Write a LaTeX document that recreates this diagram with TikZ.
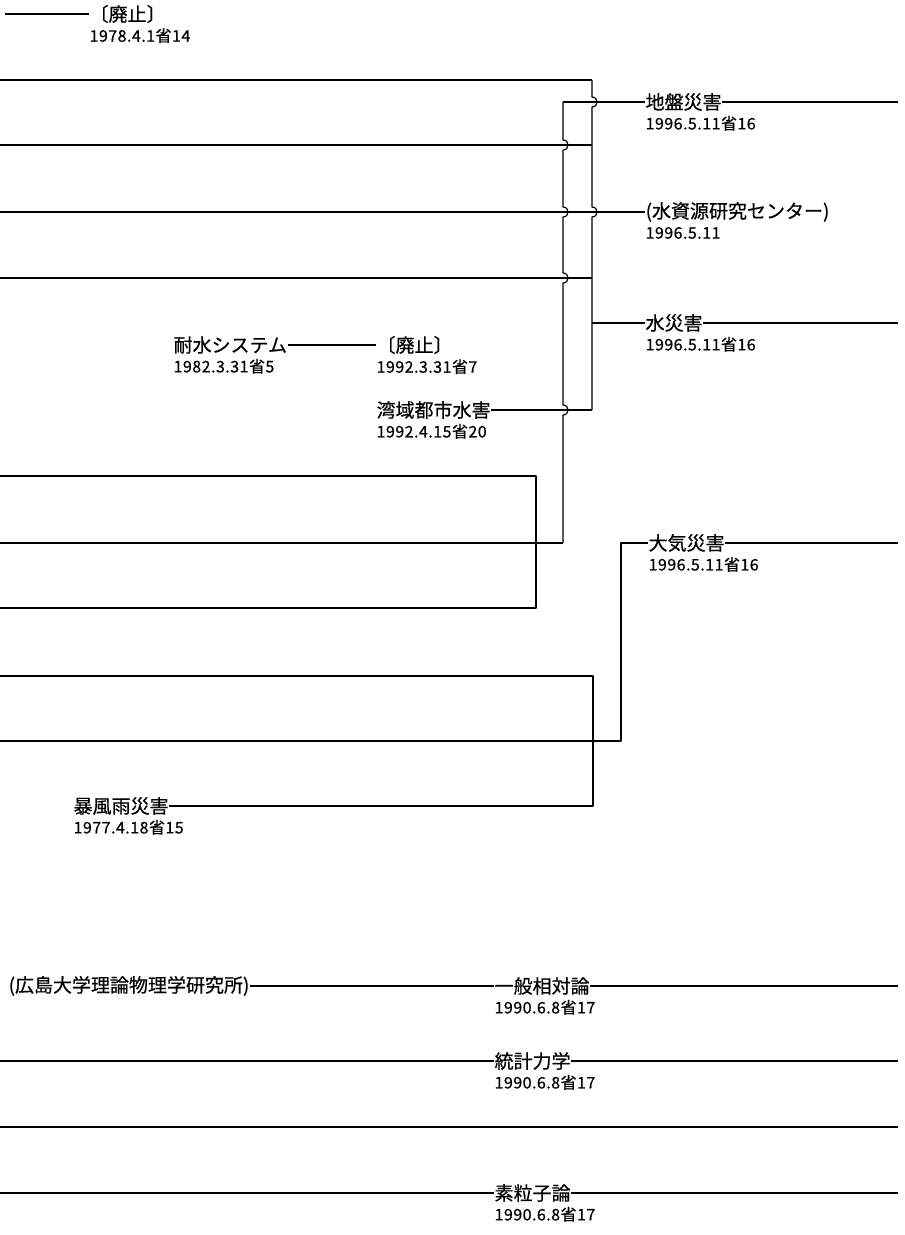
\documentclass[tikz,border=0pt]{standalone}
\usepackage{fontspec}
\setmainfont{Noto Sans CJK JP}[FakeBold=0.6]
\newfontfamily\datefont{Noto Sans CJK JP}[FakeBold=0.6, LetterSpace=3]
\usetikzlibrary{positioning}
\begin{document}
\begin{tikzpicture}[x=0.5pt, y=-0.5pt, line width=0.6pt, line join=round,
  unitlbl/.style={inner sep=0pt, anchor=west, font=\fontsize{9.5}{10}\selectfont},
  datelbl/.style={inner sep=0pt, font=\datefont\fontsize{8}{9}\selectfont}]
\useasboundingbox (0,0) rectangle (904,1235);

% abolished at top
\coordinate (topL) at (5,14);
\node[unitlbl] (haishiA) at (89,14) {〔廃止〕};
\node[datelbl, below=2pt of haishiA.south west, anchor=north west] {1978.4.1省14};
\draw (topL) -- (haishiA.west);

% labels of the first block
\node[unitlbl] (jiban) at (645,102) {地盤災害};
\node[datelbl, below=2pt of jiban.south west, anchor=north west] {1996.5.11省16};
\node[unitlbl] (shigen) at (645,212) {(水資源研究センター)};
\node[datelbl, below=2pt of shigen.south west, anchor=north west] {1996.5.11};
\node[unitlbl] (suisai) at (645,323) {水災害};
\node[datelbl, below=2pt of suisai.south west, anchor=north west] {1996.5.11省16};
\node[unitlbl] (taisui) at (173,345) {耐水システム};
\node[datelbl, below=2pt of taisui.south west, anchor=north west] {1982.3.31省5};
\node[unitlbl] (haishiB) at (376,345) {〔廃止〕};
\node[datelbl, below=2pt of haishiB.south west, anchor=north west] {1992.3.31省7};
\node[unitlbl] (wan) at (376,410) {湾域都市水害};
\node[datelbl, below=2pt of wan.south west, anchor=north west] {1992.4.15省20};
\node[unitlbl] (taiki) at (648,543) {大気災害};
\node[datelbl, below=2pt of taiki.south west, anchor=north west] {1996.5.11省16};
\node[unitlbl] (bofu) at (73,806) {暴風雨災害};
\node[datelbl, below=2pt of bofu.south west, anchor=north west] {1977.4.18省15};

% joints
\coordinate (rTop) at (592,80);
\coordinate (rBot) at (592,410);
\coordinate (lTop) at (563,102);
\coordinate (lBot) at (563,543);
\coordinate (rEndA) at (898,102);
\coordinate (rEndB) at (898,323);
\coordinate (rEndC) at (898,543);

% right trunk, hops over 102 and 212
\draw (rTop) -- (592,97) .. controls (598.7,97) and (598.7,107) .. (592,107)
  -- (592,207) .. controls (598.7,207) and (598.7,217) .. (592,217) -- (rBot);
% left trunk, hops over 145, 212, 278, 410
\draw (lTop) -- (563,140) .. controls (569.7,140) and (569.7,150) .. (563,150)
  -- (563,207) .. controls (569.7,207) and (569.7,217) .. (563,217)
  -- (563,273) .. controls (569.7,273) and (569.7,283) .. (563,283)
  -- (563,405) .. controls (569.7,405) and (569.7,415) .. (563,415) -- (lBot);

\draw (0,80) -- (rTop);
\draw (lTop) -- (jiban.west);
\draw (jiban.east) -- (rEndA);
\draw (0,145) -- (592,145);
\draw (0,212) -- (shigen.west);
\draw (0,278) -- (592,278);
\draw (592,323) -- (suisai.west);
\draw (suisai.east) -- (rEndB);
\draw (taisui.east) -- (haishiB.west);
\draw (wan.east) -- (rBot);

% bracket into the left trunk
\draw (0,476) -- (536,476) -- (536,608) -- (0,608);
\draw (0,543) -- (lBot);

% second block
\draw (0,676) -- (593,676) -- (593,806) -- (bofu.east);
\draw (0,741) -- (621,741) -- (621,543) -- (taiki.west);
\draw (taiki.east) -- (rEndC);

% physics block
\node[unitlbl] (hiro) at (8,986) {(広島大学理論物理学研究所)};
\node[unitlbl] (ippan) at (494,986) {一般相対論};
\node[datelbl, below=2pt of ippan.south west, anchor=north west] {1990.6.8省17};
\node[unitlbl] (toukei) at (494,1061) {統計力学};
\node[datelbl, below=2pt of toukei.south west, anchor=north west] {1990.6.8省17};
\node[unitlbl] (soryu) at (494,1193) {素粒子論};
\node[datelbl, below=2pt of soryu.south west, anchor=north west] {1990.6.8省17};

\draw (hiro.east) -- (ippan.west);
\draw (ippan.east) -- (898,986);
\draw (0,1061) -- (toukei.west);
\draw (toukei.east) -- (898,1061);
\draw (0,1127) -- (898,1127);
\draw (0,1193) -- (soryu.west);
\draw (soryu.east) -- (898,1193);
\end{tikzpicture}
\end{document}
